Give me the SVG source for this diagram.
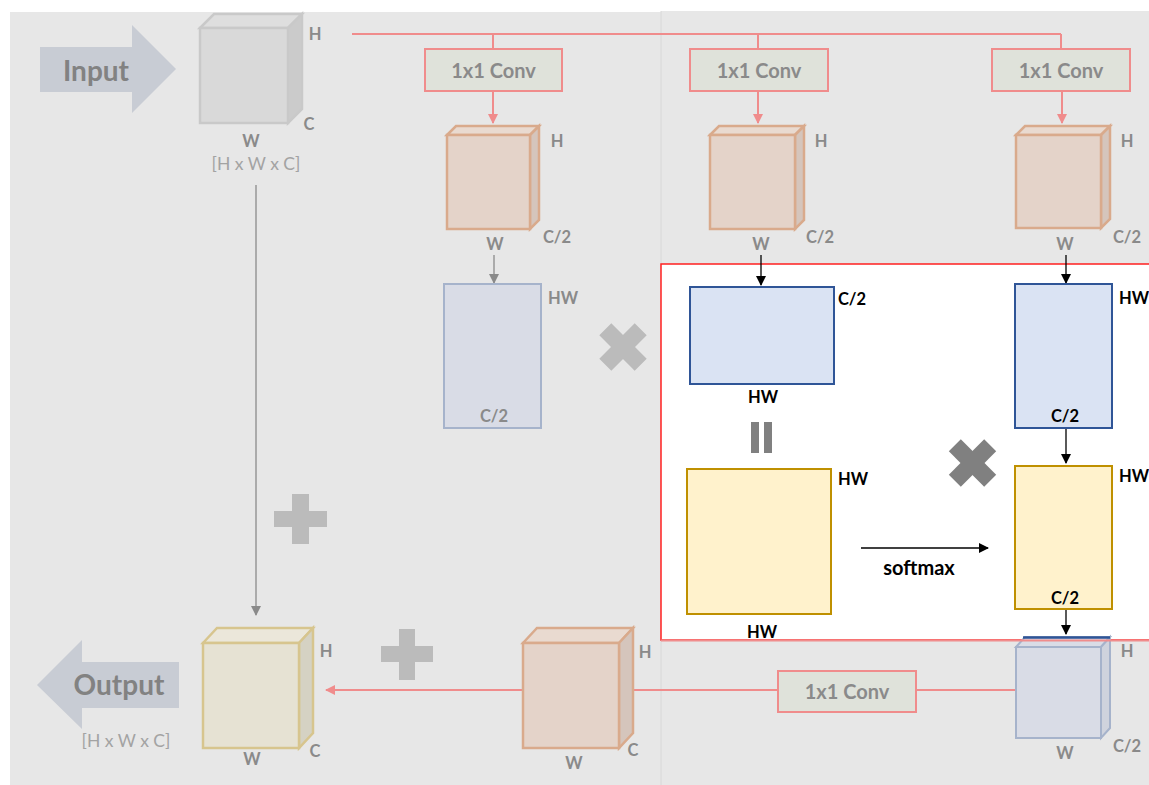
<svg xmlns="http://www.w3.org/2000/svg" width="1149" height="785" viewBox="0 0 1149 785">
<defs>
<style>
.lbl{font-family:Lato,"Open Sans","Liberation Sans",sans-serif;font-weight:bold;font-size:16.5px;fill:#8a8a8a;text-anchor:middle}
.blk{fill:#000}
.conv{fill:#dfe2da;stroke:#f08c8c;stroke-width:2}
.convt{font-family:Lato,"Open Sans","Liberation Sans",sans-serif;font-weight:bold;font-size:20px;fill:#8a8a8a;text-anchor:middle}
.dim{font-family:Lato,"Open Sans","Liberation Sans",sans-serif;font-size:17.5px;fill:#a3a3a3;text-anchor:middle}
.big{font-family:Lato,"Open Sans","Liberation Sans",sans-serif;font-weight:bold;font-size:28px;fill:#828282;text-anchor:middle}
.rl{stroke:#f08c8c;stroke-width:2;fill:none}
.gl{stroke:#8a8a8a;stroke-width:1.3;fill:none}
.bl{stroke:#000;stroke-width:1.3;fill:none}
.pf{fill:#e4d3c9;stroke:#d9aa8c;stroke-width:2.5}
.pt{fill:#e9dad0;stroke:#d9aa8c;stroke-width:2.5}
.ps{fill:#d5c5bc;stroke:#d9aa8c;stroke-width:2.5}
.fb{fill:#d9dce6;stroke:#a6b3cb;stroke-width:2}
.fbs{fill:#cfd3dd;stroke:#a6b3cb;stroke-width:2}
.sb{fill:#dae3f3;stroke:#2f5597;stroke-width:2}
.sy{fill:#fff2cc;stroke:#bf9000;stroke-width:2}
</style>
<marker id="ar" markerWidth="10" markerHeight="10" refX="9" refY="5" orient="auto" markerUnits="userSpaceOnUse"><path d="M0,0 L10,5 L0,10 Z" fill="#f08c8c"/></marker>
<marker id="ag" markerWidth="10" markerHeight="10" refX="9" refY="5" orient="auto" markerUnits="userSpaceOnUse"><path d="M0,0 L10,5 L0,10 Z" fill="#8a8a8a"/></marker>
<marker id="ab" markerWidth="10" markerHeight="10" refX="9" refY="5" orient="auto" markerUnits="userSpaceOnUse"><path d="M0,0 L10,5 L0,10 Z" fill="#000"/></marker>
</defs>
<rect x="0" y="0" width="1149" height="785" fill="#ffffff"/>
<rect x="10" y="12" width="651" height="773" fill="#e7e7e7"/>
<rect x="661" y="11" width="488" height="774" fill="#e7e7e7"/>
<line x1="661" y1="11" x2="661" y2="785" stroke="#d8d8d8" stroke-width="1"/>
<g id="attention-box">
<rect x="661" y="264" width="490" height="376" fill="#ffffff" stroke="#ff2020" stroke-width="1.5"/>
</g>
<g id="connectors">
<path class="rl" d="M352,34 H1061 M493,34 V49 M758,34 V49 M1061,34 V49"/>
<line class="rl" x1="493" y1="91" x2="493" y2="123" marker-end="url(#ar)"/>
<line class="rl" x1="758" y1="91" x2="758" y2="123" marker-end="url(#ar)"/>
<line class="rl" x1="1062" y1="91" x2="1062" y2="123" marker-end="url(#ar)"/>
<line class="gl" x1="494" y1="255" x2="494" y2="283" marker-end="url(#ag)"/>
<line class="bl" x1="761" y1="255" x2="761" y2="285" marker-end="url(#ab)"/>
<line class="bl" x1="1066" y1="255" x2="1066" y2="283" marker-end="url(#ab)"/>
<line class="bl" x1="1066" y1="429" x2="1066" y2="463" marker-end="url(#ab)"/>
<line class="bl" x1="1066" y1="610" x2="1066" y2="634" marker-end="url(#ab)"/>
<line class="bl" x1="861" y1="548" x2="988" y2="548" marker-end="url(#ab)"/>
<line class="gl" x1="256" y1="185" x2="256" y2="615" marker-end="url(#ag)"/>
<line class="rl" x1="1016" y1="690" x2="326" y2="690" marker-end="url(#ar)"/>
</g>
<g id="input-arrow">
<polygon points="40,47 132,47 132,25 176,69 132,113 132,92 40,92" fill="#c8ccd4"/>
<text class="big" x="96" y="81">Input</text>
</g>
<g id="input-cube">
<polygon points="200,28 214,14 302,14 288,28" fill="#dedede" stroke="#c9c9c9" stroke-width="2.5"/>
<polygon points="288,28 302,14 302,109 288,123" fill="#cbcbcb" stroke="#c9c9c9" stroke-width="2.5"/>
<rect x="200" y="28" width="88" height="95" fill="#d9d9d9" stroke="#c9c9c9" stroke-width="2.5"/>
<text class="lbl" x="315" y="40">H</text>
<text class="lbl" x="309" y="130">C</text>
<text class="lbl" x="251" y="147">W</text>
<text class="dim" x="256" y="170">[H x W x C]</text>
</g>
<g id="conv1"><rect class="conv" x="425" y="49" width="137" height="42"/><text class="convt" x="493.5" y="78">1x1 Conv</text></g>
<g id="conv2"><rect class="conv" x="690" y="49" width="138" height="42"/><text class="convt" x="759" y="78">1x1 Conv</text></g>
<g id="conv3"><rect class="conv" x="992" y="49" width="138" height="42"/><text class="convt" x="1061" y="78">1x1 Conv</text></g>
<g id="cube1">
<polygon class="pt" points="447,135 456,126 539,126 530,135"/>
<polygon class="ps" points="530,135 539,126 539,220 530,229"/>
<rect class="pf" x="447" y="135" width="83" height="94"/>
<text class="lbl" x="557" y="147">H</text>
<text class="lbl" x="557" y="243">C/2</text>
<text class="lbl" x="495" y="250">W</text>
</g>
<g id="cube2">
<polygon class="pt" points="710,135 719,126 804,126 795,135"/>
<polygon class="ps" points="795,135 804,126 804,220 795,229"/>
<rect class="pf" x="710" y="135" width="85" height="94"/>
<text class="lbl" x="821" y="147">H</text>
<text class="lbl" x="820" y="243">C/2</text>
<text class="lbl" x="761" y="250">W</text>
</g>
<g id="cube3">
<polygon class="pt" points="1016,135 1025,126 1110,126 1101,135"/>
<polygon class="ps" points="1101,135 1110,126 1110,219 1101,228"/>
<rect class="pf" x="1016" y="135" width="85" height="93"/>
<text class="lbl" x="1127" y="147">H</text>
<text class="lbl" x="1127" y="243">C/2</text>
<text class="lbl" x="1065" y="250">W</text>
</g>
<g id="key-faded">
<rect class="fb" x="444" y="284" width="97" height="144"/>
<text class="lbl" x="563" y="304">HW</text>
<text class="lbl" x="494" y="422">C/2</text>
</g>
<g id="times-light">
<g transform="translate(623,347) rotate(45)" fill="#bbbbbb"><rect x="-25" y="-8.5" width="50" height="17"/><rect x="-8.5" y="-25" width="17" height="50"/></g>
</g>
<g id="query">
<rect class="sb" x="690" y="287" width="144" height="97"/>
<text class="lbl blk" x="852" y="305">C/2</text>
<text class="lbl blk" x="763" y="403">HW</text>
</g>
<g id="equals">
<rect x="751" y="422" width="8" height="31" fill="#808080"/>
<rect x="764" y="422" width="8" height="31" fill="#808080"/>
</g>
<g id="affinity">
<rect class="sy" x="687" y="469" width="144" height="145"/>
<text class="lbl blk" x="853" y="485">HW</text>
<text class="lbl blk" x="762" y="638">HW</text>
</g>
<g id="softmax-label"><text class="lbl blk" x="919" y="575" style="font-size:20px">softmax</text></g>
<g id="times-dark">
<g transform="translate(972.5,463) rotate(45)" fill="#808080"><rect x="-25" y="-8.5" width="50" height="17"/><rect x="-8.5" y="-25" width="17" height="50"/></g>
</g>
<g id="value">
<rect class="sb" x="1015" y="284" width="97" height="144"/>
<text class="lbl blk" x="1134" y="304">HW</text>
<text class="lbl blk" x="1065" y="422">C/2</text>
</g>
<g id="weighted">
<rect class="sy" x="1015" y="466" width="97" height="143"/>
<text class="lbl blk" x="1134" y="482">HW</text>
<text class="lbl blk" x="1065" y="604">C/2</text>
</g>
<g id="cube-faded">
<polygon class="fb" points="1016,647 1025,637 1110,637 1101,647"/>
<polygon class="fbs" points="1101,647 1110,637 1110,728 1101,738"/>
<rect class="fb" x="1016" y="647" width="85" height="91"/>
<line x1="661" y1="640.5" x2="1149" y2="640.5" stroke="#f08c8c" stroke-width="2"/>
<line x1="1023" y1="637.5" x2="1110" y2="637.5" stroke="#2f5597" stroke-width="2.5"/>
<text class="lbl" x="1127" y="657">H</text>
<text class="lbl" x="1127" y="752">C/2</text>
<text class="lbl" x="1065" y="759">W</text>
</g>
<g id="conv4"><rect class="conv" x="778" y="671" width="138" height="41"/><text class="convt" x="847" y="699">1x1 Conv</text></g>
<g id="cube-out-conv">
<polygon class="pt" points="523,643 537,628 633,628 619,643"/>
<polygon class="ps" points="619,643 633,628 633,733 619,748"/>
<rect class="pf" x="523" y="643" width="96" height="105"/>
<text class="lbl" x="645" y="658">H</text>
<text class="lbl" x="633" y="756">C</text>
<text class="lbl" x="574" y="769">W</text>
</g>
<g id="plus-bottom" fill="#bbbbbb">
<rect x="381" y="646" width="52" height="16"/><rect x="399" y="629" width="16" height="51"/>
</g>
<g id="plus-left" fill="#bbbbbb">
<rect x="274" y="511" width="53" height="16"/><rect x="292" y="494" width="17" height="50"/>
</g>
<g id="output-cube">
<polygon points="203,643 217,628 313,628 299,643" fill="#ebe7da" stroke="#d7c58e" stroke-width="2.5"/>
<polygon points="299,643 313,628 313,733 299,748" fill="#d5d2c3" stroke="#d7c58e" stroke-width="2.5"/>
<rect x="203" y="643" width="96" height="105" fill="#e6e2d3" stroke="#d7c58e" stroke-width="2.5"/>
<text class="lbl" x="326" y="657">H</text>
<text class="lbl" x="315" y="757">C</text>
<text class="lbl" x="252" y="765">W</text>
</g>
<g id="output-arrow">
<polygon points="37,685 82,640 82,662 179,662 179,708 82,708 82,729" fill="#c8ccd4"/>
<text class="big" x="119" y="695">Output</text>
<text class="dim" x="126" y="747">[H x W x C]</text>
</g>
</svg>
